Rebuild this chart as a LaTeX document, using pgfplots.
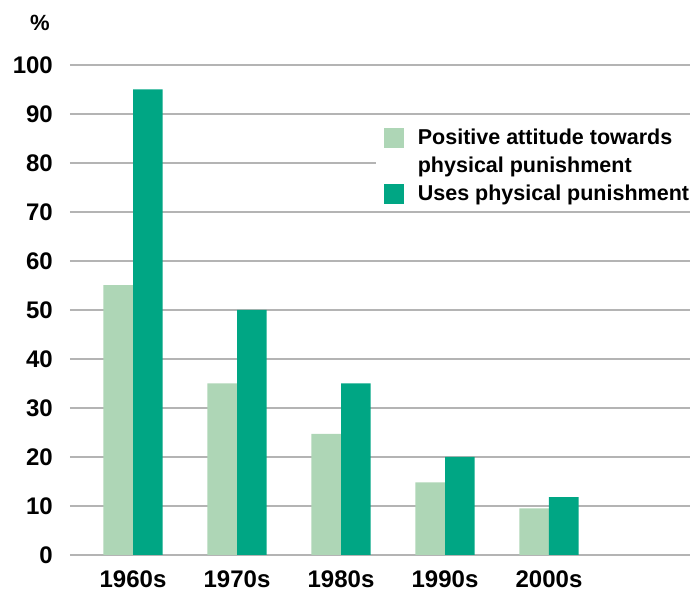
\documentclass[border=0pt]{standalone}
\usepackage{pgfplots}
\pgfplotsset{compat=1.18}
\usepackage{fontspec}
\setmainfont{Liberation Sans}
\definecolor{lightg}{HTML}{AED6B6}
\definecolor{darkg}{HTML}{00A684}
\definecolor{gridg}{HTML}{B4B4B4}
\begin{document}
\begin{tikzpicture}
\begin{scope}[overlay]
\begin{axis}[
  scale only axis,
  width=620pt, height=490pt,
  ybar=0pt, bar width=0.284,
  xmin=-0.606, xmax=5.356,
  ymin=0, ymax=100,
  ytick={0,10,...,100},
  xtick={0,1,2,3,4},
  xticklabels={1960s,1970s,1980s,1990s,2000s},
  axis line style={draw=none},
  major tick style={draw=none},
  ymajorgrids,
  grid style={gridg, line width=2.2pt},
  /pgf/number format/assume math mode=true,
  tick label style={font=\bfseries\fontsize{24}{28}\selectfont, inner sep=1pt},
  yticklabel style={xshift=-16pt},
  xticklabel style={yshift=-10pt},
  legend style={at={(0.493,0.88)}, anchor=north west, draw=none, fill=white,
    font=\bfseries\fontsize{21.5}{25}\selectfont, inner xsep=8pt, inner ysep=3pt,
    row sep=7pt, column sep=12pt},
  legend cell align=left,
  legend image code/.code={\fill[#1] (0pt,-10pt) rectangle (20pt,10pt);},
]
\addplot[fill=lightg, draw=none] coordinates {(0,55.1) (1,35) (2,24.7) (3,14.8) (4,9.5)};
\addlegendentry{Positive attitude towards}
\addlegendimage{empty legend}
\addlegendentry{physical punishment}
\addplot[fill=darkg, draw=none] coordinates {(0,95) (1,50) (2,35) (3,20) (4,11.8)};
\addlegendentry{Uses physical punishment}
\end{axis}
\end{scope}
\node[overlay, font=\bfseries\fontsize{22}{26}\selectfont] at ([xshift=-30pt,yshift=42pt]current axis.north west) {\%};
\path[use as bounding box] ([xshift=-70pt,yshift=-38pt]current axis.south west) rectangle ([xshift=2pt,yshift=65pt]current axis.north east);
\end{tikzpicture}
\end{document}
